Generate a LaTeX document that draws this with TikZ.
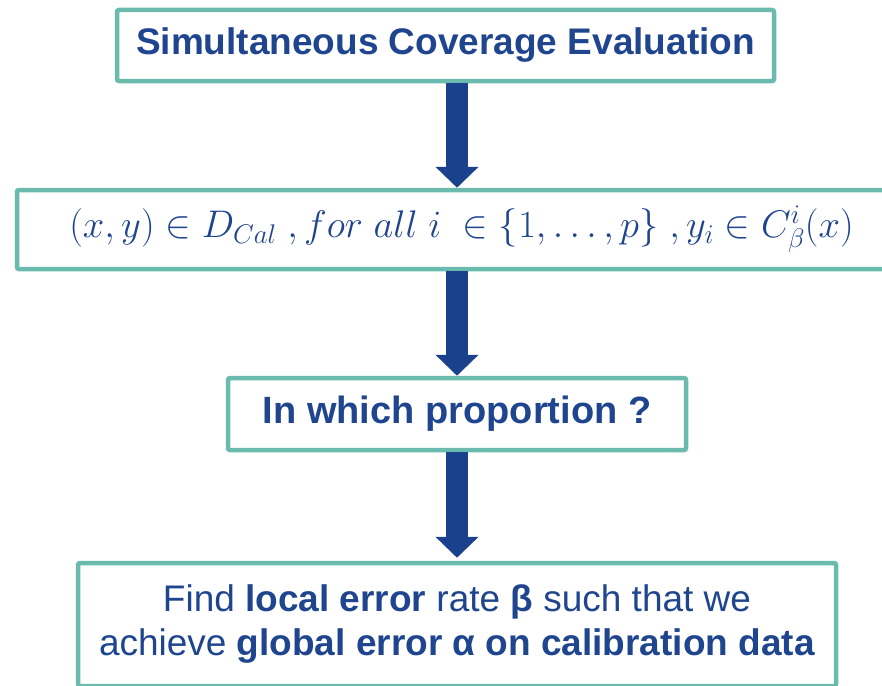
\RequirePackage{fix-cm}
\documentclass[tikz,border=0pt]{standalone}
\usepackage{fontspec}
\setmainfont{Liberation Sans}
\usetikzlibrary{arrows.meta}
\definecolor{boxteal}{RGB}{106,187,174}
\definecolor{inkblue}{RGB}{31,69,143}
\definecolor{arrowblue}{RGB}{26,66,140}
\begin{document}
\begin{tikzpicture}[x=1pt,y=-1pt,
  stage/.style={draw=boxteal, line width=4.5pt, rounded corners=2pt, fill=white,
    text=inkblue, align=center, inner sep=0pt},
  flow/.style={draw=arrowblue, line width=22pt,
    -{Triangle[width=42pt,length=21pt]}}]
\useasboundingbox (0,0) rectangle (882,685);
\coordinate (axis) at (457,0);

% the four stages, top to bottom
\path (445.5,45.5) node[stage, minimum width=657pt, minimum height=71pt,
    font={\fontsize{37}{44}\selectfont\bfseries}] (eval)
  {Simultaneous Coverage Evaluation};
\path (453.5,229.5) node[stage, minimum width=873pt, minimum height=79pt,
    font={\fontsize{38.5}{44}\selectfont}] (cond)
  {\hspace*{16pt}\raisebox{-3pt}{$(x,y)\in D_{Cal}\ ,for\ all\ i\ \in\{1,\ldots,p\}\ ,y_i\in C_\beta^i(x)$}};
\path (457,414) node[stage, minimum width=458pt, minimum height=72pt,
    font={\fontsize{38}{44}\selectfont\bfseries}] (prop)
  {In which proportion ?};
\path (457,624.5) node[stage, minimum width=758pt, minimum height=123pt,
    font={\fontsize{37}{44}\selectfont}] (goal)
  {Find \textbf{local error} rate \textbf{β} such that we\\
   achieve \textbf{global error α on calibration data}};

% block arrows between the stages
\draw[flow] (eval.south -| axis) -- (cond.north -| axis);
\draw[flow] (cond.south -| axis) -- (prop.north -| axis);
\draw[flow, shorten >=3pt] (prop.south -| axis) -- (goal.north -| axis);
\end{tikzpicture}
\end{document}
